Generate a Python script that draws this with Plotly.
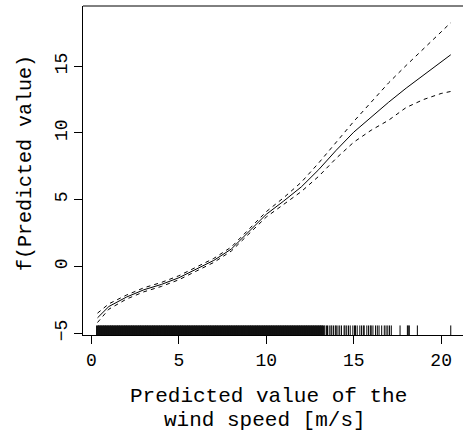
import plotly.graph_objects as go

# Smooth term estimate and its confidence band
x_grid = [0.35, 1, 2, 3, 4, 5, 6, 7, 8, 9, 10, 11, 12, 13, 14, 15, 16, 17, 18, 19, 20, 20.55]
fit = [-3.85, -3.0, -2.3, -1.75, -1.35, -0.85, -0.2, 0.45, 1.3, 2.6, 3.9, 4.9, 5.95, 7.25, 8.7,
       10.05, 11.2, 12.3, 13.35, 14.35, 15.35, 15.85]
upper = [-3.5, -2.8, -2.15, -1.6, -1.2, -0.7, -0.05, 0.6, 1.45, 2.75, 4.1, 5.15, 6.3, 7.75, 9.3,
         10.85, 12.3, 13.75, 15.05, 16.3, 17.6, 18.25]
lower = [-4.2, -3.2, -2.45, -1.9, -1.5, -1.0, -0.35, 0.3, 1.15, 2.45, 3.7, 4.65, 5.6, 6.75, 8.1,
         9.3, 10.2, 10.95, 11.9, 12.5, 12.95, 13.1]

# Rug of observed predicted wind speeds (dense part, then sparse tail)
rug_dense = [0.35, 0.45, 0.55, 0.65, 0.75, 0.85, 0.95, 1.05, 1.15, 1.25, 1.35, 1.45, 1.55, 1.65,
             1.75, 1.85, 1.95, 2.05, 2.15, 2.25, 2.35, 2.45, 2.55, 2.65, 2.75, 2.85, 2.95, 3.05,
             3.15, 3.25, 3.35, 3.45, 3.55, 3.65, 3.75, 3.85, 3.95, 4.05, 4.15, 4.25, 4.35, 4.45,
             4.55, 4.65, 4.75, 4.85, 4.95, 5.05, 5.15, 5.25, 5.35, 5.45, 5.55, 5.65, 5.75, 5.85,
             5.95, 6.05, 6.15, 6.25, 6.35, 6.45, 6.55, 6.65, 6.75, 6.85, 6.95, 7.05, 7.15, 7.25,
             7.35, 7.45, 7.55, 7.65, 7.75, 7.85, 7.95, 8.05, 8.15, 8.25, 8.35, 8.45, 8.55, 8.65,
             8.75, 8.85, 8.95, 9.05, 9.15, 9.25, 9.35, 9.45, 9.55, 9.65, 9.75, 9.85, 9.95, 10.05,
             10.15, 10.25, 10.35, 10.45, 10.55, 10.65, 10.75, 10.85, 10.95, 11.05, 11.15, 11.25,
             11.35, 11.45, 11.55, 11.65, 11.75, 11.85, 11.95, 12.05, 12.15, 12.25, 12.35, 12.45,
             12.55, 12.65, 12.75, 12.85, 12.95, 13.05, 13.15, 13.25]
rug_sparse = [13.35, 13.45, 13.5, 13.6, 13.7, 13.75, 13.85, 13.95, 14.0, 14.1, 14.2, 14.3, 14.45,
              14.5, 14.6, 14.7, 14.8, 14.95, 15.05, 15.1, 15.2, 15.35, 15.45, 15.55, 15.6, 15.75,
              15.85, 15.95, 16.0, 16.1, 16.25, 16.35, 16.45, 16.6, 16.75, 16.85, 16.95, 17.05,
              17.15, 17.65, 18.07, 18.12, 18.18, 18.64, 20.55]

x_ticks = [0, 5, 10, 15, 20]
y_ticks = [-5, 0, 5, 10, 15]
x_range = [-0.48, 21.25]
y_range = [-5.135, 19.5]
rug_top = -4.42

FONT = "Liberation Mono"


def rug_xy(vals):
    xs, ys = [], []
    for v in vals:
        xs += [v, v, None]
        ys += [y_range[0], rug_top, None]
    return xs, ys


fig = go.Figure()
dx, dy = rug_xy(rug_dense)
fig.add_trace(go.Scatter(x=dx, y=dy, mode="lines", line=dict(color="#111111", width=3),
                         hoverinfo="skip", showlegend=False))
sx, sy = rug_xy(rug_sparse)
fig.add_trace(go.Scatter(x=sx, y=sy, mode="lines", line=dict(color="black", width=1),
                         hoverinfo="skip", showlegend=False))
fig.add_trace(go.Scatter(x=x_grid, y=upper, mode="lines",
                         line=dict(color="black", width=1, dash="4px,4px"), showlegend=False))
fig.add_trace(go.Scatter(x=x_grid, y=lower, mode="lines",
                         line=dict(color="black", width=1, dash="4px,4px"), showlegend=False))
fig.add_trace(go.Scatter(x=x_grid, y=fit, mode="lines",
                         line=dict(color="black", width=1), showlegend=False))

axis_common = dict(showgrid=False, zeroline=False, showline=True, linecolor="black",
                   linewidth=1, ticks="outside", ticklen=8, tickcolor="black", automargin=False,
                   tickfont=dict(family=FONT, size=18, color="black"))
fig.update_xaxes(range=x_range, tickvals=x_ticks, **axis_common)
fig.update_yaxes(range=y_range, tickvals=y_ticks, tickangle=-90, **axis_common)

fig.add_shape(type="line", xref="paper", yref="paper", x0=0, x1=1, y0=1, y1=1,
              line=dict(color="black", width=1))

fig.add_annotation(text="f(Predicted value)", xref="paper", yref="paper", x=0, y=0.5228,
                   xanchor="center", yanchor="middle", xshift=-57, textangle=-90,
                   showarrow=False, font=dict(family=FONT, size=20, color="black"))
fig.add_annotation(text="Predicted value of the", xref="paper", yref="paper", x=0.487, y=0,
                   xanchor="center", yanchor="middle", yshift=-61, showarrow=False,
                   font=dict(family=FONT, size=21, color="black"))
fig.add_annotation(text="wind speed [m/s]", xref="paper", yref="paper", x=0.48, y=0,
                   xanchor="center", yanchor="middle", yshift=-85, showarrow=False,
                   font=dict(family=FONT, size=21, color="black"))

fig.update_layout(width=463, height=440, margin=dict(l=83, r=0, t=6, b=105),
                  plot_bgcolor="white", paper_bgcolor="white")

fig.write_html("out.html", config={"displayModeBar": False},
               post_script="document.body.style.margin='0px';")
